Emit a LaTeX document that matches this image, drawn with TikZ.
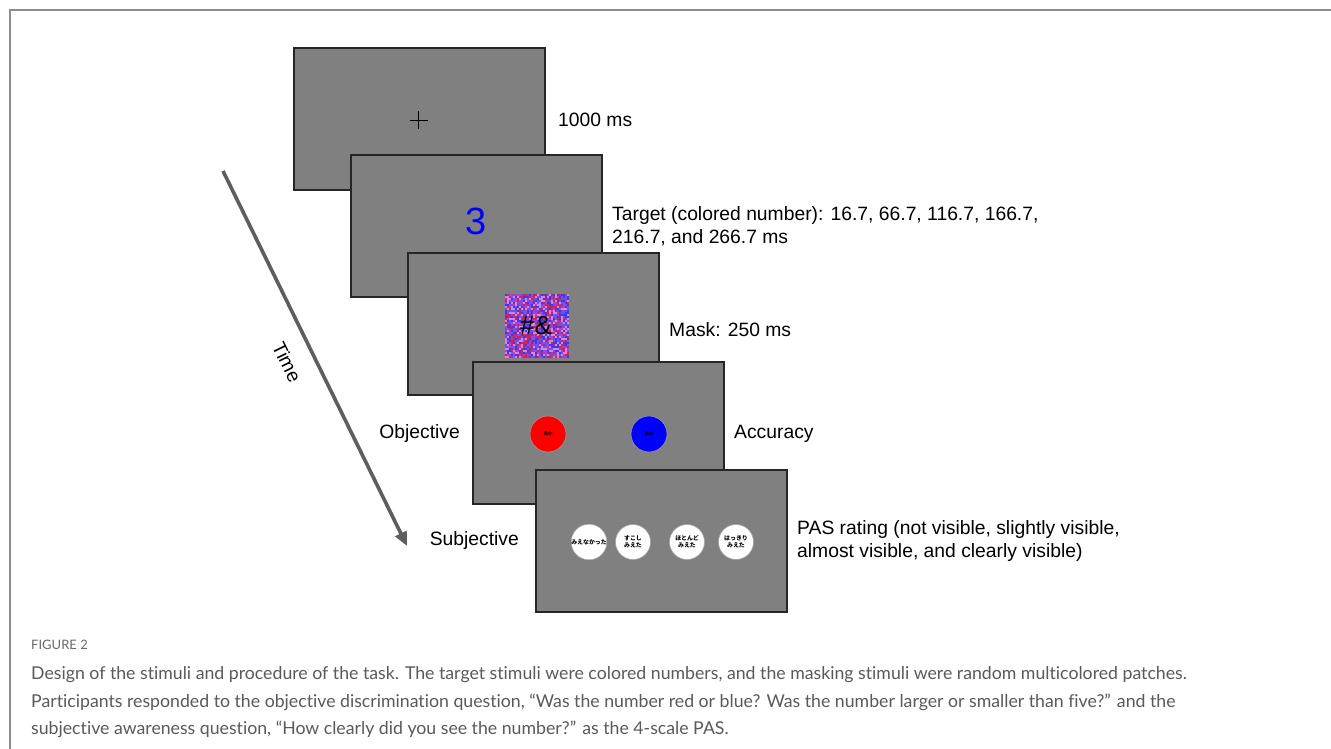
\documentclass[tikz,border=0pt]{standalone}
\usepackage{fontspec}
\setmainfont{Liberation Sans}
\newfontfamily\capfont[Ligatures=NoCommon]{Lato}
\newfontfamily\jp{Noto Sans CJK JP}
\usetikzlibrary{arrows.meta}
\definecolor{scr}{HTML}{808080}
\definecolor{capgray}{HTML}{5A5A5A}
\definecolor{framegray}{HTML}{8C8C8C}
\definecolor{arrowgray}{HTML}{5E5E5E}
\definecolor{mred}{HTML}{D8204A}
\definecolor{mblue}{HTML}{3A3AF0}
\definecolor{mpurp}{HTML}{9A48D8}
\definecolor{mpink}{HTML}{D884D8}
\definecolor{mviol}{HTML}{6A50E8}
\tikzset{
  screen/.style={draw=black!85, line width=1.3pt, fill=scr, minimum width=251pt, minimum height=142pt, inner sep=0pt},
  lbl/.style={anchor=west, inner sep=0pt, font=\fontsize{19.3}{23.5}\selectfont, align=left},
  lblr/.style={anchor=east, inner sep=0pt, font=\fontsize{19.3}{23.5}\selectfont},
  resp/.style={circle, draw=black!40, line width=0.6pt, minimum size=36pt, inner sep=0pt},
  pas/.style={circle, draw=black!35, line width=0.6pt, fill=white, minimum size=35pt, inner sep=0pt, align=center, font=\jp\bfseries\fontsize{5.9}{7.2}\selectfont},
  capline/.style={anchor=west, inner sep=0pt, text=capgray, font=\capfont\fontsize{17.7}{20}\selectfont},
}
\begin{document}
\begin{tikzpicture}[x=1pt,y=-1pt]
\useasboundingbox (0,0) rectangle (1331,749);
\fill[white] (0,0) rectangle (1331,749);
% frame
\draw[framegray, line width=1.6pt] (1331,10) -- (10,10) -- (10,749);

% screens
\node[screen] (s1) at (419.5,119) {};
\draw[line width=0.8pt] (409.5,120) -- (427.5,120) (418.5,111) -- (418.5,129);
\node[screen] (s2) at (476.5,226) {};
\node[text=blue, inner sep=0pt, font=\fontsize{38}{40}\selectfont] (three) at (476,221) {3};
\node[screen] (s3) at (533.5,324) {};
% mask patch
\begin{scope}
\pgfmathsetseed{11}
\foreach \i in {0,...,31}{
  \foreach \j in {0,...,31}{
    \pgfmathrandominteger{\c}{1}{5}
    \ifcase\c\or
      \def\cc{mred}\or
      \def\cc{mblue}\or
      \def\cc{mpurp}\or
      \def\cc{mpink}\or
      \def\cc{mviol}\fi
    \fill[\cc] (505+\i*2,294+\j*2) rectangle ++(2.05,2.05);
  }
}
\end{scope}
\node[inner sep=0pt, font=\fontsize{26}{28}\selectfont] (mask) at (536,326) {\#\&};
\node[screen] (s4) at (598.5,433) {};
\node[resp, fill=red] (red) at (548,434) {\jp\bfseries\fontsize{4.5}{5}\selectfont あか};
\node[resp, fill=blue] (blue) at (649,434) {\jp\bfseries\fontsize{4.5}{5}\selectfont あお};
\node[screen] (s5) at (661.5,541) {};
\node[pas] (p1) at (589,542) {みえなかった};
\node[pas] (p2) at (633,542) {すこし\\みえた};
\node[pas] (p3) at (687,542) {ほとんど\\みえた};
\node[pas] (p4) at (736,542) {はっきり\\みえた};

% labels
\node[lbl] (l1) at (558,120) {1000 ms};
\node[lbl] (l2) at (612,226) {Target (colored number): 16.7, 66.7, 116.7, 166.7,\\216.7, and 266.7 ms};
\node[lbl] (l3) at (669,330) {Mask: 250 ms};
\node[lblr] (obj) at (460,434) {Objective};
\node[lbl] (acc) at (734,434) {Accuracy};
\node[lblr] (subj) at (519,541) {Subjective};
\node[lbl] (l5) at (797,541) {PAS rating (not visible, slightly visible,\\almost visible, and clearly visible)};

% time arrow
\coordinate (t0) at (223,171);
\coordinate (t1) at (407,546);
\draw[arrowgray, line width=3.6pt, -{Triangle[length=14pt,width=12pt]}] (t0) -- (t1);
\node[rotate=-64, inner sep=0pt, font=\fontsize{19.3}{22}\selectfont] (time) at (287,362) {Time};

% caption
\node[anchor=west, inner sep=0pt, text=capgray!90, font=\capfont\fontsize{13}{14}\selectfont] (fig) at (31,645) {FIGURE 2};
\node[capline] (c1) at (31,675) {Design of the stimuli and procedure of the task. The target stimuli were colored numbers, and the masking stimuli were random multicolored patches.};
\node[capline] (c2) at (31,702) {Participants responded to the objective discrimination question, “Was the number red or blue? Was the number larger or smaller than five?” and the};
\node[capline] (c3) at (31,729) {subjective awareness question, “How clearly did you see the number?” as the 4-scale PAS.};
\end{tikzpicture}
\end{document}
